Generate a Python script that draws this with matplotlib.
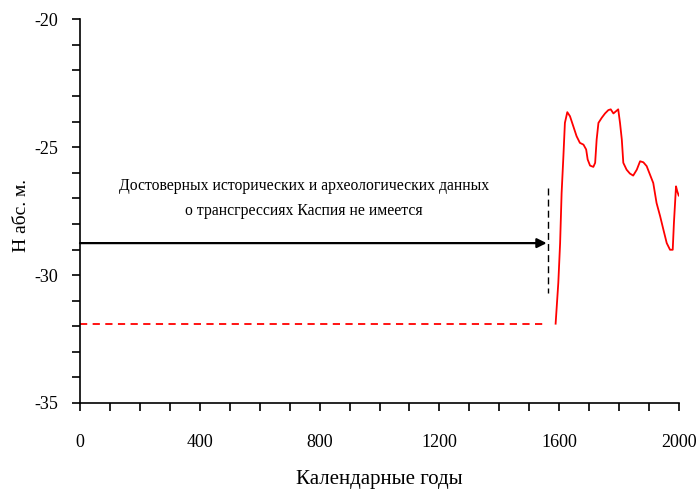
import matplotlib
matplotlib.use("Agg")
import matplotlib.pyplot as plt
from matplotlib.ticker import MultipleLocator

# red curve: Caspian level reconstruction (years AD, m abs.)
years = [1588, 1597, 1603, 1608, 1614, 1619, 1627, 1636, 1647, 1658, 1669, 1681,
         1690, 1695, 1703, 1714, 1720, 1725, 1731, 1742, 1753, 1764, 1772, 1781,
         1790, 1797, 1803, 1809, 1814, 1825, 1836, 1847, 1859, 1870, 1881, 1892,
         1903, 1914, 1925, 1937, 1948, 1959, 1970, 1979, 1983, 1990, 1994, 1999]
level = [-31.9, -30.3, -28.75, -26.8, -25.35, -24.05, -23.63, -23.79, -24.18, -24.57,
         -24.83, -24.9, -25.09, -25.48, -25.72, -25.77, -25.61, -24.7, -24.05, -23.85,
         -23.68, -23.55, -23.52, -23.68, -23.59, -23.52, -24.05, -24.7, -25.61, -25.88,
         -26.03, -26.11, -25.88, -25.55, -25.59, -25.74, -26.07, -26.4, -27.18, -27.7,
         -28.23, -28.75, -29.01, -29.01, -27.96, -26.53, -26.72, -26.89]

# dashed red: assumed level before data
base_years = [0, 1560]
base_level = [-31.9, -31.9]

arrow_y = -28.75
arrow_x = [0, 1558]
marker_x = 1561
marker_y = [-26.6, -30.7]

note = ("Достоверных исторических и археологических данных\n"
        "о трансгрессиях Каспия не имеется")

plt.rcParams["font.family"] = ["Liberation Serif", "DejaVu Serif"]
plt.rcParams["axes.unicode_minus"] = False

fig = plt.figure(figsize=(6.98, 4.95), dpi=100)
ax = fig.add_axes([0.1146, 0.1859, 0.8582, 0.7751])

ax.plot(base_years, base_level, color="red", linestyle=(0, (4, 3)), linewidth=1.3)
ax.plot(years, level, color="red", linewidth=1.3)

ax.annotate("", xy=(arrow_x[1], arrow_y), xytext=(arrow_x[0], arrow_y),
            arrowprops=dict(arrowstyle="-|>", color="black", lw=1.6,
                            mutation_scale=14, shrinkA=0, shrinkB=0))
ax.plot([marker_x, marker_x], marker_y, color="black", linestyle=(0, (5, 3)), linewidth=1.0)

ax.text(748, -27.0, note, ha="center", va="center", fontsize=11.3, linespacing=1.7)

ax.set_xlim(0, 2000)
ax.set_ylim(-35, -20)
ax.xaxis.set_major_locator(MultipleLocator(400))
ax.xaxis.set_minor_locator(MultipleLocator(100))
ax.yaxis.set_major_locator(MultipleLocator(5))
ax.yaxis.set_minor_locator(MultipleLocator(1))
ax.tick_params(which="both", direction="out", length=6, width=1.2, labelsize=13)
ax.tick_params(axis="y", pad=10)
ax.tick_params(axis="x", pad=16)

for side in ["top", "right"]:
    ax.spines[side].set_visible(False)
for side in ["left", "bottom"]:
    ax.spines[side].set_linewidth(1.2)

ax.set_xlabel("Календарные годы", fontsize=15, labelpad=14)
fig.text(22 / 698, 1 - 215 / 495, "Н абс. м.", rotation=90, ha="center", va="center",
         fontsize=14)

fig.savefig("out.png", dpi=100)
